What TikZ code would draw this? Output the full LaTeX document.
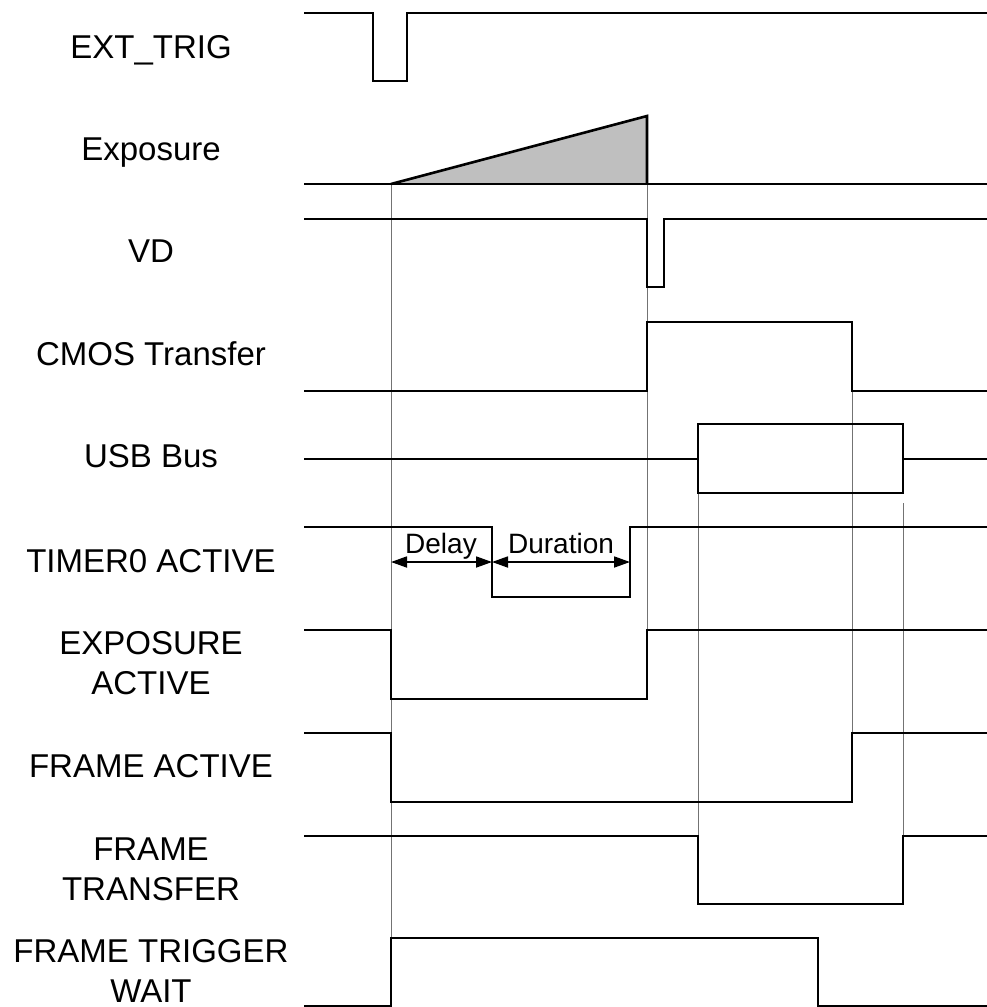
\documentclass[tikz,border=0pt]{standalone}
\usepackage{fontspec}
\setmainfont{Liberation Sans}
\usetikzlibrary{arrows.meta}
\begin{document}
\begin{tikzpicture}[x=1pt,y=-1pt,
  sig/.style={line width=2.6pt,line join=miter,black},
  guide/.style={line width=1pt,black!55},
  lbl/.style={anchor=base,align=center,inner sep=0pt,font=\fontsize{33}{39.5}\selectfont},
  dim/.style={line width=1.8pt,{Triangle[length=16pt,width=11pt]}-{Triangle[length=16pt,width=11pt]}},
  dimtxt/.style={anchor=base,inner sep=0pt,font=\fontsize{28}{32}\selectfont}]
\useasboundingbox (0,0) rectangle (987,1007);
% guide lines
\draw[guide] (391,184) -- (391,938);
\draw[guide] (647,184) -- (647,630);
\draw[guide] (852,391) -- (852,733);
\draw[guide] (698,493) -- (698,836);
\draw[guide] (903,503) -- (903,836);
% labels
\node[lbl] (l1) at (151,58) {EXT\_TRIG};
\node[lbl] (l2) at (151,160) {Exposure};
\node[lbl] (l3) at (151,262) {VD};
\node[lbl] (l4) at (151,365) {CMOS Transfer};
\node[lbl] (l5) at (151,467) {USB Bus};
\node[lbl] (l6) at (151,572) {TIMER0 ACTIVE};
\node[lbl] (l7) at (151,694) {EXPOSURE\\ACTIVE};
\node[lbl] (l8) at (151,777) {FRAME ACTIVE};
\node[lbl] (l9) at (151,900) {FRAME\\TRANSFER};
\node[lbl] (l10) at (151,1002) {FRAME TRIGGER\\WAIT};
% signals
\draw[sig] (304,13) -- (373,13) -- (373,81) -- (407,81) -- (407,13) -- (987,13);
\fill[black!25] (391,184) -- (647,116) -- (647,184) -- cycle;
\draw[sig] (391,184) -- (647,116) -- (647,184);
\draw[sig] (304,184) -- (987,184);
\draw[sig] (304,219) -- (647,219) -- (647,287) -- (664,287) -- (664,219) -- (987,219);
\draw[sig] (304,391) -- (647,391) -- (647,322) -- (852,322) -- (852,391) -- (987,391);
\draw[sig] (304,459) -- (698,459);
\draw[sig] (698,424) rectangle (903,493);
\draw[sig] (903,459) -- (987,459);
\draw[sig] (304,527) -- (492,527) -- (492,597) -- (630,597) -- (630,527) -- (987,527);
\draw[sig] (304,630) -- (391,630) -- (391,699) -- (647,699) -- (647,630) -- (987,630);
\draw[sig] (304,733) -- (391,733) -- (391,802) -- (852,802) -- (852,733) -- (987,733);
\draw[sig] (304,836) -- (698,836) -- (698,904) -- (903,904) -- (903,836) -- (987,836);
\draw[sig] (304,1006) -- (391,1006) -- (391,938) -- (818,938) -- (818,1006) -- (987,1006);
% dimension arrows
\coordinate (d0) at (391,562);
\coordinate (d1) at (492,562);
\coordinate (d2) at (630,562);
\draw[dim] (d0) -- (d1);
\draw[dim] (d1) -- (d2);
\node[dimtxt] (tdel) at (441,553) {Delay};
\node[dimtxt] (tdur) at (561,553) {Duration};
\end{tikzpicture}
\end{document}
